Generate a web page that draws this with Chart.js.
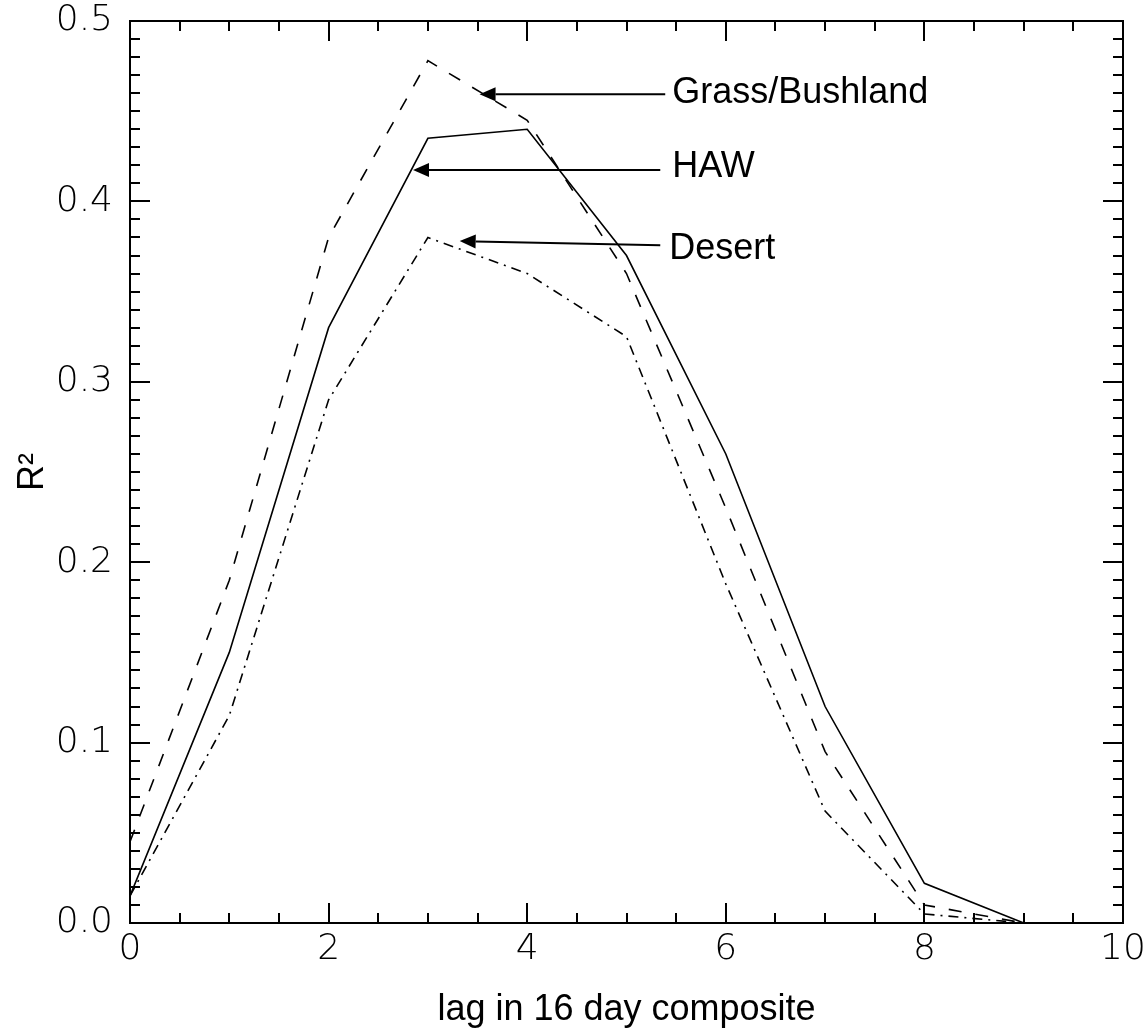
<!DOCTYPE html>
<html>
<head>
<meta charset="utf-8">
<script src="https://cdn.jsdelivr.net/npm/chart.js@4.4.1/dist/chart.umd.min.js"></script>
<style>
	html, body { margin: 0; padding: 0; background: #fff; }
	#wrap { width: 1147px; height: 1036px; }
</style>
</head>
<body>
<div id="wrap"><canvas id="lagChart" width="1147" height="1036"></canvas></div>
<script>
// lag (in 16 day composites) on x, R² on y
const lags = [0, 1, 2, 3, 4, 5, 6, 7, 8, 9];
const haw = [0.015, 0.15, 0.33, 0.435, 0.44, 0.37, 0.26, 0.12, 0.022, 0.0];
const grass = [0.045, 0.19, 0.38, 0.478, 0.445, 0.36, 0.23, 0.095, 0.01, 0.0];
const desert = [0.015, 0.115, 0.29, 0.38, 0.36, 0.325, 0.188, 0.062, 0.005, 0.0];

const xTicks = [0, 2, 4, 6, 8, 10];
const yTicks = [0.0, 0.1, 0.2, 0.3, 0.4, 0.5];

const tickFont = { family: "'DejaVu Sans'", size: 36, weight: '200' };
const textFont = { family: "'Liberation Sans', Arial, sans-serif", size: 36 };

// labels with arrows, in data units
const callouts = [
	{ text: 'Grass/Bushland', tx: 5.46, ty: 0.460, x1: 5.39, y1: 0.4594, x2: 3.52, y2: 0.4594 },
	{ text: 'HAW', tx: 5.46, ty: 0.4188, x1: 5.34, y1: 0.4174, x2: 2.85, y2: 0.4174 },
	{ text: 'Desert', tx: 5.43, ty: 0.3733, x1: 5.34, y1: 0.3757, x2: 3.32, y2: 0.378 },
];

const pts = (vals) => lags.map((l, i) => ({ x: l, y: vals[i] }));

// box around plot with inward ticks on all four sides
const framePlugin = {
	id: 'frame',
	afterDatasetsDraw(chart) {
		const { ctx, chartArea: a, scales: { x, y } } = chart;
		ctx.save();
		ctx.strokeStyle = '#000';
		ctx.lineWidth = 2;
		ctx.strokeRect(a.left, a.top, a.right - a.left, a.bottom - a.top);
		ctx.beginPath();
		for (let i = 0; i <= 20; i++) {
			const px = Math.round(x.getPixelForValue(i * 0.5));
			const len = i % 4 === 0 ? 20 : 10;
			ctx.moveTo(px, a.bottom); ctx.lineTo(px, a.bottom - len);
			ctx.moveTo(px, a.top); ctx.lineTo(px, a.top + len);
		}
		for (let i = 0; i <= 50; i++) {
			const py = Math.round(y.getPixelForValue(i * 0.01));
			const len = i % 10 === 0 ? 20 : 10;
			ctx.moveTo(a.left, py); ctx.lineTo(a.left + len, py);
			ctx.moveTo(a.right, py); ctx.lineTo(a.right - len, py);
		}
		ctx.stroke();
		ctx.restore();
	},
};

const calloutPlugin = {
	id: 'callouts',
	afterDraw(chart) {
		const { ctx, scales: { x, y } } = chart;
		ctx.save();
		ctx.fillStyle = '#000';
		ctx.strokeStyle = '#000';
		ctx.lineWidth = 2;
		ctx.font = textFont.size + 'px ' + textFont.family;
		ctx.textBaseline = 'middle';
		ctx.textAlign = 'left';
		callouts.forEach((c) => {
			const x1 = x.getPixelForValue(c.x1), y1 = y.getPixelForValue(c.y1);
			const x2 = x.getPixelForValue(c.x2), y2 = y.getPixelForValue(c.y2);
			const ang = Math.atan2(y2 - y1, x2 - x1);
			const hl = 16, hw = 7;
			const bx = x2 - hl * Math.cos(ang), by = y2 - hl * Math.sin(ang);
			ctx.beginPath();
			ctx.moveTo(x1, y1); ctx.lineTo(bx, by);
			ctx.stroke();
			ctx.beginPath();
			ctx.moveTo(x2, y2);
			ctx.lineTo(bx + hw * Math.sin(ang), by - hw * Math.cos(ang));
			ctx.lineTo(bx - hw * Math.sin(ang), by + hw * Math.cos(ang));
			ctx.closePath();
			ctx.fill();
			ctx.fillText(c.text, x.getPixelForValue(c.tx), y.getPixelForValue(c.ty));
		});
		ctx.restore();
	},
};

const lineStyle = {
	borderColor: '#000',
	borderWidth: 1.6,
	pointRadius: 0,
	tension: 0,
	fill: false,
};

new Chart(document.getElementById('lagChart').getContext('2d'), {
	type: 'line',
	data: {
		datasets: [
			{ label: 'HAW', data: pts(haw), ...lineStyle },
			{ label: 'Grass/Bushland', data: pts(grass), ...lineStyle, borderDash: [13, 14] },
			{ label: 'Desert', data: pts(desert), ...lineStyle, borderDash: [10, 6, 2, 6] },
		],
	},
	options: {
		responsive: false,
		animation: false,
		layout: { padding: { top: 21, right: 24, left: 0, bottom: 0 } },
		plugins: { legend: { display: false }, tooltip: { enabled: false } },
		scales: {
			x: {
				type: 'linear',
				min: 0,
				max: 10,
				afterBuildTicks: (s) => { s.ticks = xTicks.map((v) => ({ value: v })); },
				afterFit: (s) => { s.height = 113; s.paddingLeft = 0; s.paddingRight = 0; },
				grid: { display: false, drawTicks: false },
				border: { display: false },
				ticks: { color: '#000', font: tickFont, padding: 5, maxRotation: 0, callback: (v) => String(v) },
				title: { display: true, text: 'lag in 16 day composite', color: '#000', font: textFont, padding: { top: 0, bottom: 4 } },
			},
			y: {
				type: 'linear',
				min: 0,
				max: 0.5,
				afterBuildTicks: (s) => { s.ticks = yTicks.map((v) => ({ value: v })); },
				afterFit: (s) => { s.width = 130; s.paddingTop = 0; s.paddingBottom = 0; },
				grid: { display: false, drawTicks: false },
				border: { display: false },
				ticks: { color: '#000', font: tickFont, padding: 17, callback: (v) => v.toFixed(1) },
				title: { display: true, text: 'R²', color: '#000', font: textFont, padding: { top: 11, bottom: 0 } },
			},
		},
	},
	plugins: [framePlugin, calloutPlugin],
});
</script>
</body>
</html>
